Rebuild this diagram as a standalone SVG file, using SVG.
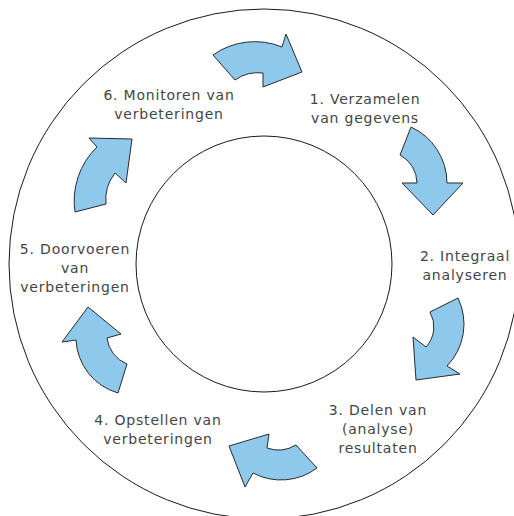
<svg xmlns="http://www.w3.org/2000/svg" width="514" height="516" viewBox="0 0 514 516">
  <style>
    .ring { fill: none; stroke: #1a1a1a; stroke-width: 1; }
    .label { font-family: "DejaVu Sans", Verdana, sans-serif; font-size: 14px; letter-spacing: 0.8px; fill: #454545; text-anchor: middle; }
    .arrow { fill: #8EC8EA; stroke: #2b2b2b; stroke-width: 1; stroke-linejoin: miter; }
  </style>
  <rect width="514" height="516" fill="#ffffff"/>

  <!-- cycle rings -->
  <g id="rings">
    <circle class="ring" cx="264" cy="264" r="255"/>
    <circle class="ring" cx="264" cy="264" r="128"/>
  </g>

  <!-- curved block arrows between steps -->
  <g id="connectors">
    <path class="arrow" d="M 213,55 L 235,80 A 40 40 0 0 1 263,73 L 263,87 L 302,72 L 286,34 L 282,47 A 72 72 0 0 0 213,55 Z"/>
    <path class="arrow" d="M 411,127 L 400,155 A 32 32 0 0 1 417,183 L 402,183 L 433,215 L 463,183 L 447,183 A 62 62 0 0 0 411,127 Z"/>
    <path class="arrow" d="M 458,298 L 430,312 A 30 30 0 0 1 426,347 L 413,337 L 416,380 L 460,374 L 447,366 A 60 60 0 0 0 458,298 Z"/>
    <path class="arrow" d="M 317,468 L 296,445 A 34 34 0 0 1 267,448 L 269,434 L 229,446 L 245,487 L 253,473 A 60 60 0 0 0 317,468 Z"/>
    <path class="arrow" d="M 118,393 L 127,364 A 32 32 0 0 1 107,338 L 121,334 L 88,307 L 62,342 L 76,340 A 58 58 0 0 0 118,393 Z"/>
    <path class="arrow" d="M 75,212 L 106,204 A 43 43 0 0 1 115,173 L 126,183 L 132,139 L 89,138 L 97,147 A 75 75 0 0 0 75,212 Z"/>
  </g>

  <!-- step labels -->
  <g id="step1">
    <text class="label" x="365" y="104">1. Verzamelen</text>
    <text class="label" x="365" y="123">van gegevens</text>
  </g>
  <g id="step2">
    <text class="label" x="465" y="261">2. Integraal</text>
    <text class="label" x="465" y="280">analyseren</text>
  </g>
  <g id="step3">
    <text class="label" x="378" y="415">3. Delen van</text>
    <text class="label" x="378" y="434">(analyse)</text>
    <text class="label" x="378" y="453">resultaten</text>
  </g>
  <g id="step4">
    <text class="label" x="158" y="425">4. Opstellen van</text>
    <text class="label" x="158" y="444">verbeteringen</text>
  </g>
  <g id="step5">
    <text class="label" x="75" y="254">5. Doorvoeren</text>
    <text class="label" x="75" y="273">van</text>
    <text class="label" x="75" y="292">verbeteringen</text>
  </g>
  <g id="step6">
    <text class="label" x="169" y="100">6. Monitoren van</text>
    <text class="label" x="169" y="119">verbeteringen</text>
  </g>
</svg>
